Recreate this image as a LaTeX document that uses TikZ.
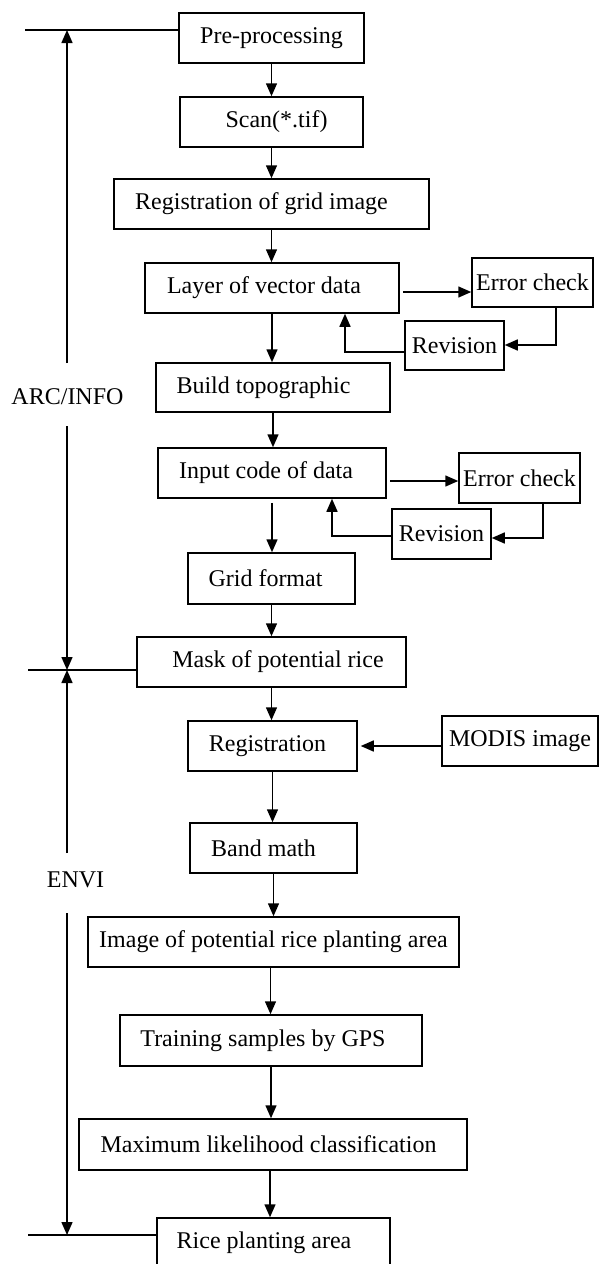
\documentclass[tikz,border=0pt]{standalone}
\usepackage{fontspec}
\setmainfont{Liberation Serif}
\usetikzlibrary{arrows.meta,calc}
\begin{document}
\begin{tikzpicture}[x=1pt,y=-1pt,
 box/.style={draw,line width=1.5pt,inner sep=0pt,minimum height=50pt,font=\fontsize{24}{28}\selectfont},
 arr/.style={line width=1.5pt,-{Triangle[length=13pt,width=11pt]}},
 ln/.style={line width=1.5pt},
 lbl/.style={font=\fontsize{24}{28}\selectfont,inner sep=0pt}]
\useasboundingbox (0,0) rectangle (599,1264);
% main column
\node[box,minimum width=185pt] (pre) at (271.5,38) {Pre-processing};
\node[box,minimum width=183pt] (scan) at (271.5,122) {\hspace*{10pt}Scan(*.tif)};
\node[box,minimum width=315pt] (reg) at (271.5,204) {Registration of grid image\hspace*{20pt}};
\node[box,minimum width=254pt] (layer) at (272,288) {Layer of vector data\hspace*{16pt}};
\node[box,minimum width=121pt,minimum height=49pt] (err1) at (532.5,282.5) {Error check};
\node[box,minimum width=99pt,minimum height=49pt] (rev1) at (454.5,345.5) {Revision};
\node[box,minimum width=234pt,minimum height=49pt] (build) at (273,387.5) {Build topographic\hspace*{19pt}};
\node[box,minimum width=228pt] (input) at (272,473) {Input code of data\hspace*{12pt}};
\node[box,minimum width=121pt] (err2) at (519.5,478) {Error check};
\node[box,minimum width=99pt] (rev2) at (441.5,534) {Revision};
\node[box,minimum width=167pt,minimum height=51pt] (grid) at (271.5,578.5) {Grid format\hspace*{12pt}};
\node[box,minimum width=269pt] (mask) at (271.5,662) {\hspace*{13pt}Mask of potential rice};
\node[box,minimum width=169pt] (regis) at (272.5,746) {Registration\hspace*{10pt}};
\node[box,minimum width=156pt] (modis) at (520,741) {MODIS image};
\node[box,minimum width=167pt] (band) at (273.5,848) {Band math\hspace*{20pt}};
\node[box,minimum width=371pt] (image) at (273.5,942) {Image of potential rice planting area};
\node[box,minimum width=302pt,minimum height=51pt] (train) at (271,1040.5) {Training samples by GPS\hspace*{16pt}};
\node[box,minimum width=388pt,minimum height=51pt] (max) at (273,1144.5) {Maximum likelihood classification\hspace*{9pt}};
\node[box,minimum width=233pt] (rice) at (273.5,1243) {Rice planting area\hspace*{19pt}};
% vertical flow
\draw[arr] (pre.south) -- (pre.south |- scan.north);
\draw[arr] (scan.south) -- (scan.south |- reg.north);
\draw[arr] (reg.south) -- (reg.south |- layer.north);
\draw[arr] (layer.south) -- (layer.south |- build.north);
\draw[arr] (build.south) -- (build.south |- input.north);
\draw[arr] ([yshift=-4pt]input.south) -- (input.south |- grid.north);
\draw[arr] (grid.south) -- (grid.south |- mask.north);
\draw[arr] (mask.south) -- (mask.south |- regis.north);
\draw[arr] (regis.south) -- (regis.south |- band.north);
\draw[arr] (band.south) -- (band.south |- image.north);
\draw[arr] ([xshift=-3pt]image.south) -- ([xshift=-3pt]image.south |- train.north);
\draw[arr] (train.south) -- (train.south |- max.north);
\draw[arr] ([xshift=-3pt]max.south) -- ([xshift=-3pt]max.south |- rice.north);
% error loops
\coordinate (l1) at (403,292);
\draw[arr] (l1) -- (l1 -| err1.west);
\coordinate (e1) at (556,345);
\draw[arr] (e1 |- err1.south) -- (e1) -- (e1 -| rev1.east);
\coordinate (r1) at (345,352);
\draw[arr] (r1 -| rev1.west) -- (r1) -- (r1 |- layer.south);
\coordinate (l2) at (390,481);
\draw[arr] (l2) -- (l2 -| err2.west);
\coordinate (e2) at (543,538);
\draw[arr] (e2 |- err2.south) -- (e2) -- (e2 -| rev2.east);
\coordinate (r2) at (332,536);
\draw[arr] (r2 -| rev2.west) -- (r2) -- (r2 |- input.south);
% MODIS
\draw[arr,shorten >=3pt] (modis.west |- regis.east) -- (regis.east);
% left brackets
\coordinate (t1) at (25,30);
\draw[ln] (t1) -- (t1 -| pre.west);
\coordinate (v1) at (67,363);
\draw[arr] (v1) -- (v1 |- t1);
\node[lbl] (arc) at (67.5,397) {ARC/INFO};
\coordinate (v2) at (67,426);
\coordinate (t2) at (28,670);
\draw[ln] (t2) -- (t2 -| mask.west);
\draw[arr] (v2) -- (v2 |- t2);
\coordinate (v3) at (67,853);
\draw[arr] (v3) -- (v3 |- t2);
\node[lbl] (envi) at (75.5,880) {ENVI};
\coordinate (v4) at (67,913);
\coordinate (t3) at (28,1235);
\draw[ln] (t3) -- (t3 -| rice.west);
\draw[arr] (v4) -- (v4 |- t3);
\end{tikzpicture}
\end{document}
